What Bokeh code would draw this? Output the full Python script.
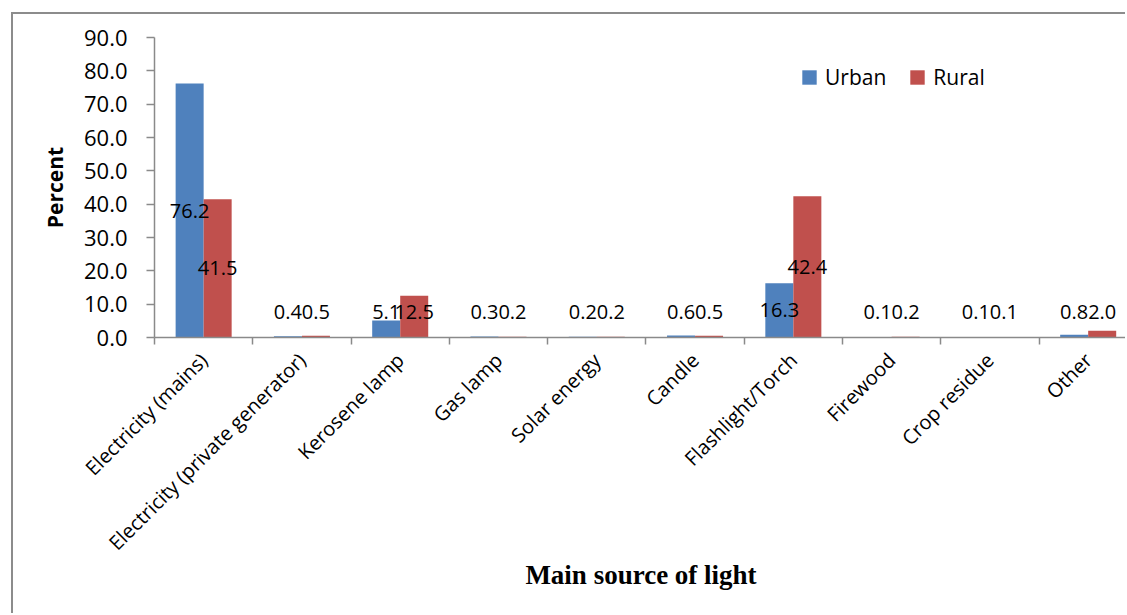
import math
from bokeh.plotting import figure
from bokeh.models import (Range1d, FixedTicker, ColumnDataSource, Legend, LegendItem,
                          PrintfTickFormatter)
from bokeh.core.properties import value
from bokeh.embed import file_html
from bokeh.resources import INLINE

categories = ["Electricity (mains)", "Electricity (private generator)", "Kerosene lamp",
              "Gas lamp", "Solar energy", "Candle", "Flashlight/Torch", "Firewood",
              "Crop residue", "Other"]
urban = [76.2, 0.4, 5.1, 0.3, 0.2, 0.6, 16.3, 0.1, 0.1, 0.8]
rural = [41.5, 0.5, 12.5, 0.2, 0.2, 0.5, 42.4, 0.2, 0.1, 2.0]
series_names = ["Urban", "Rural"]
series_colors = ["#4F81BD", "#C0504D"]
y_ticks = [0, 10, 20, 30, 40, 50, 60, 70, 80, 90]
x_title = "Main source of light"
y_title = "Percent"

AXIS = "#8A8A8A"
FONT = "Open Sans"
BAR_W = 0.285
OFF = BAR_W / 2

# canvas offset by the chart border (left 13px, top 14px)
p = figure(width=1114, height=601, output_backend="svg", toolbar_location=None,
           x_range=Range1d(0, 9.90), y_range=Range1d(0, 90),
           min_border_left=141, min_border_right=0, min_border_top=23, min_border_bottom=278)
p.styles = {"margin-left": "11px", "margin-top": "12px",
            "border-left": "2px solid #8C8C8C", "border-top": "2px solid #8C8C8C"}
p.outline_line_color = None
p.xgrid.visible = False
p.ygrid.visible = False
p.background_fill_color = "white"
p.border_fill_color = "white"

idx = list(range(len(categories)))
centers = [i + 0.5 for i in idx]
src = ColumnDataSource(dict(
    xu=[c - OFF for c in centers], xr=[c + OFF for c in centers],
    urban=urban, rural=rural,
    lu=[f"{v:.1f}" for v in urban], lr=[f"{v:.1f}" for v in rural],
    yu=[max(v / 2, 7.6) for v in urban], yr=[max(v / 2, 7.6) for v in rural],
))

ru = p.vbar(x="xu", top="urban", width=BAR_W, source=src, fill_color=series_colors[0],
            line_color=None)
rr = p.vbar(x="xr", top="rural", width=BAR_W, source=src, fill_color=series_colors[1],
            line_color=None)

for xcol, tcol, ycol in (("xu", "lu", "yu"), ("xr", "lr", "yr")):
    p.text(x=xcol, y=ycol, text=tcol, source=src, text_align="center",
           text_baseline="middle", text_font=value(FONT), text_font_size="20px",
           text_color="black")

# axes
xa = p.xaxis[0]
xa.ticker = FixedTicker(ticks=centers, minor_ticks=idx)
xa.major_label_overrides = {c: name for c, name in zip(centers, categories)}
xa.major_label_orientation = math.pi / 4
xa.major_tick_line_color = None
xa.major_tick_out = 3
xa.major_tick_in = 0
xa.minor_tick_out = 7
xa.minor_tick_in = 0
xa.minor_tick_line_color = AXIS
xa.minor_tick_line_width = 1.5
xa.axis_line_color = AXIS
xa.axis_line_width = 1.5
xa.major_label_text_font = FONT
xa.major_label_text_font_size = "20px"
xa.major_label_text_color = "black"
xa.major_label_standoff = 12
xa.axis_label = x_title
xa.axis_label_text_font = "Liberation Serif"
xa.axis_label_text_font_style = "bold"
xa.axis_label_text_font_size = "27px"
xa.axis_label_text_color = "black"
xa.axis_label_standoff = -8

ya = p.yaxis[0]
ya.ticker = FixedTicker(ticks=y_ticks)
ya.formatter = PrintfTickFormatter(format="%.1f")
ya.major_tick_out = 8
ya.major_tick_in = 0
ya.minor_tick_line_color = None
ya.major_tick_line_color = AXIS
ya.major_tick_line_width = 1.5
ya.axis_line_color = AXIS
ya.axis_line_width = 1.5
ya.major_label_text_font = FONT
ya.major_label_text_font_size = "22px"
ya.major_label_text_color = "black"
ya.major_label_standoff = 19
ya.axis_label = y_title
ya.axis_label_text_font = FONT
ya.axis_label_text_font_style = "bold"
ya.axis_label_text_font_size = "21px"
ya.axis_label_text_color = "black"
ya.axis_label_standoff = 12

legend = Legend(items=[LegendItem(label=series_names[0], renderers=[ru]),
                       LegendItem(label=series_names[1], renderers=[rr])],
                orientation="horizontal", location=(646, 246))
legend.glyph_width = 18
legend.glyph_height = 18
legend.label_standoff = 7
legend.spacing = 22
legend.padding = 0
legend.margin = 0
legend.border_line_color = None
legend.background_fill_alpha = 0
legend.label_text_font = FONT
legend.label_text_font_size = "21px"
legend.label_text_color = "black"
p.add_layout(legend)

open("out.html", "w").write(file_html(p, INLINE))
